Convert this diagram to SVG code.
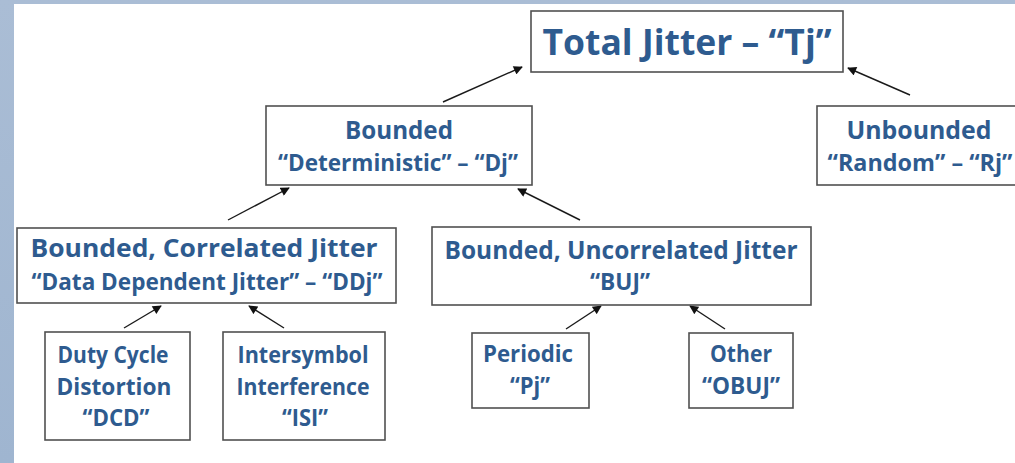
<svg xmlns="http://www.w3.org/2000/svg" width="1015" height="463" viewBox="0 0 1015 463">
<style>
.box{fill:#ffffff;stroke:#505050;stroke-width:1.6}
.t{font-family:"Open Sans","Liberation Sans",sans-serif;font-weight:700;fill:#2e5b8f;text-anchor:middle}
.h1{font-size:36px}
.h2{font-size:25px}
.s{font-size:22.5px}
.leaf{font-size:22.5px}
.conn{stroke:#1a1a1a;stroke-width:1.4;fill:none;marker-end:url(#ah)}
</style>
<defs>
<marker id="ah" viewBox="0 0 10 10" refX="9" refY="5" markerWidth="10" markerHeight="9" markerUnits="userSpaceOnUse" orient="auto">
<path d="M0,0 L10,5 L0,10 Z" fill="#111"/>
</marker>
<linearGradient id="bg" x1="0" y1="0" x2="0" y2="1">
<stop offset="0" stop-color="#aabdd5"/>
<stop offset="1" stop-color="#9fb5d0"/>
</linearGradient>
</defs>
<rect x="0" y="0" width="1015" height="463" fill="url(#bg)"/>
<rect x="14" y="4" width="1001" height="459" fill="#ffffff"/>

<g id="connectors">
<line class="conn" x1="443" y1="102" x2="522" y2="67"/>
<line class="conn" x1="910" y1="95" x2="848" y2="68"/>
<line class="conn" x1="228" y1="220" x2="289" y2="188"/>
<line class="conn" x1="580" y1="220" x2="518" y2="189"/>
<line class="conn" x1="124" y1="328" x2="161" y2="306"/>
<line class="conn" x1="284" y1="328" x2="249" y2="306"/>
<line class="conn" x1="566" y1="329" x2="601" y2="306"/>
<line class="conn" x1="725" y1="329" x2="690" y2="306"/>
</g>

<g id="total">
<rect class="box" x="531" y="11" width="312" height="61"/>
<text class="t h1" x="687" y="55" textLength="289" lengthAdjust="spacingAndGlyphs">Total Jitter – “Tj”</text>
</g>

<g id="bounded">
<rect class="box" x="266" y="106" width="266" height="79"/>
<text class="t h2" x="399" y="139" textLength="108" lengthAdjust="spacingAndGlyphs">Bounded</text>
<text class="t s" x="398" y="171" textLength="240" lengthAdjust="spacingAndGlyphs">“Deterministic” – “Dj”</text>
</g>

<g id="unbounded">
<rect class="box" x="817" y="106" width="210" height="79"/>
<text class="t h2" x="919" y="139" textLength="145" lengthAdjust="spacingAndGlyphs">Unbounded</text>
<text class="t s" x="920" y="171" textLength="185" lengthAdjust="spacingAndGlyphs">“Random” – “Rj”</text>
</g>

<g id="bcj">
<rect class="box" x="17" y="228" width="379" height="75"/>
<text class="t h2" x="204" y="257" textLength="347" lengthAdjust="spacingAndGlyphs">Bounded, Correlated Jitter</text>
<text class="t s" x="207" y="290" textLength="351" lengthAdjust="spacingAndGlyphs">“Data Dependent Jitter” – “DDj”</text>
</g>

<g id="buj">
<rect class="box" x="432" y="227" width="379" height="78"/>
<text class="t h2" x="621" y="259" textLength="353" lengthAdjust="spacingAndGlyphs">Bounded, Uncorrelated Jitter</text>
<text class="t s" x="620" y="290" textLength="60" lengthAdjust="spacingAndGlyphs">“BUJ”</text>
</g>

<g id="dcd">
<rect class="box" x="45" y="332" width="145" height="108"/>
<text class="t leaf" x="113" y="363" textLength="111" lengthAdjust="spacingAndGlyphs">Duty Cycle</text>
<text class="t leaf" x="114" y="395" textLength="115" lengthAdjust="spacingAndGlyphs">Distortion</text>
<text class="t leaf" x="116" y="426" textLength="67" lengthAdjust="spacingAndGlyphs">“DCD”</text>
</g>

<g id="isi">
<rect class="box" x="223" y="332" width="162" height="108"/>
<text class="t leaf" x="303" y="363" textLength="131" lengthAdjust="spacingAndGlyphs">Intersymbol</text>
<text class="t leaf" x="303" y="395" textLength="133" lengthAdjust="spacingAndGlyphs">Interference</text>
<text class="t leaf" x="305" y="426" textLength="46" lengthAdjust="spacingAndGlyphs">“ISI”</text>
</g>

<g id="periodic">
<rect class="box" x="472" y="333" width="117" height="75"/>
<text class="t leaf" x="528" y="362" textLength="90" lengthAdjust="spacingAndGlyphs">Periodic</text>
<text class="t leaf" x="530" y="394" textLength="40" lengthAdjust="spacingAndGlyphs">“Pj”</text>
</g>

<g id="other">
<rect class="box" x="689" y="333" width="104" height="75"/>
<text class="t leaf" x="741" y="362" textLength="62" lengthAdjust="spacingAndGlyphs">Other</text>
<text class="t leaf" x="741" y="394" textLength="78" lengthAdjust="spacingAndGlyphs">“OBUJ”</text>
</g>
</svg>
